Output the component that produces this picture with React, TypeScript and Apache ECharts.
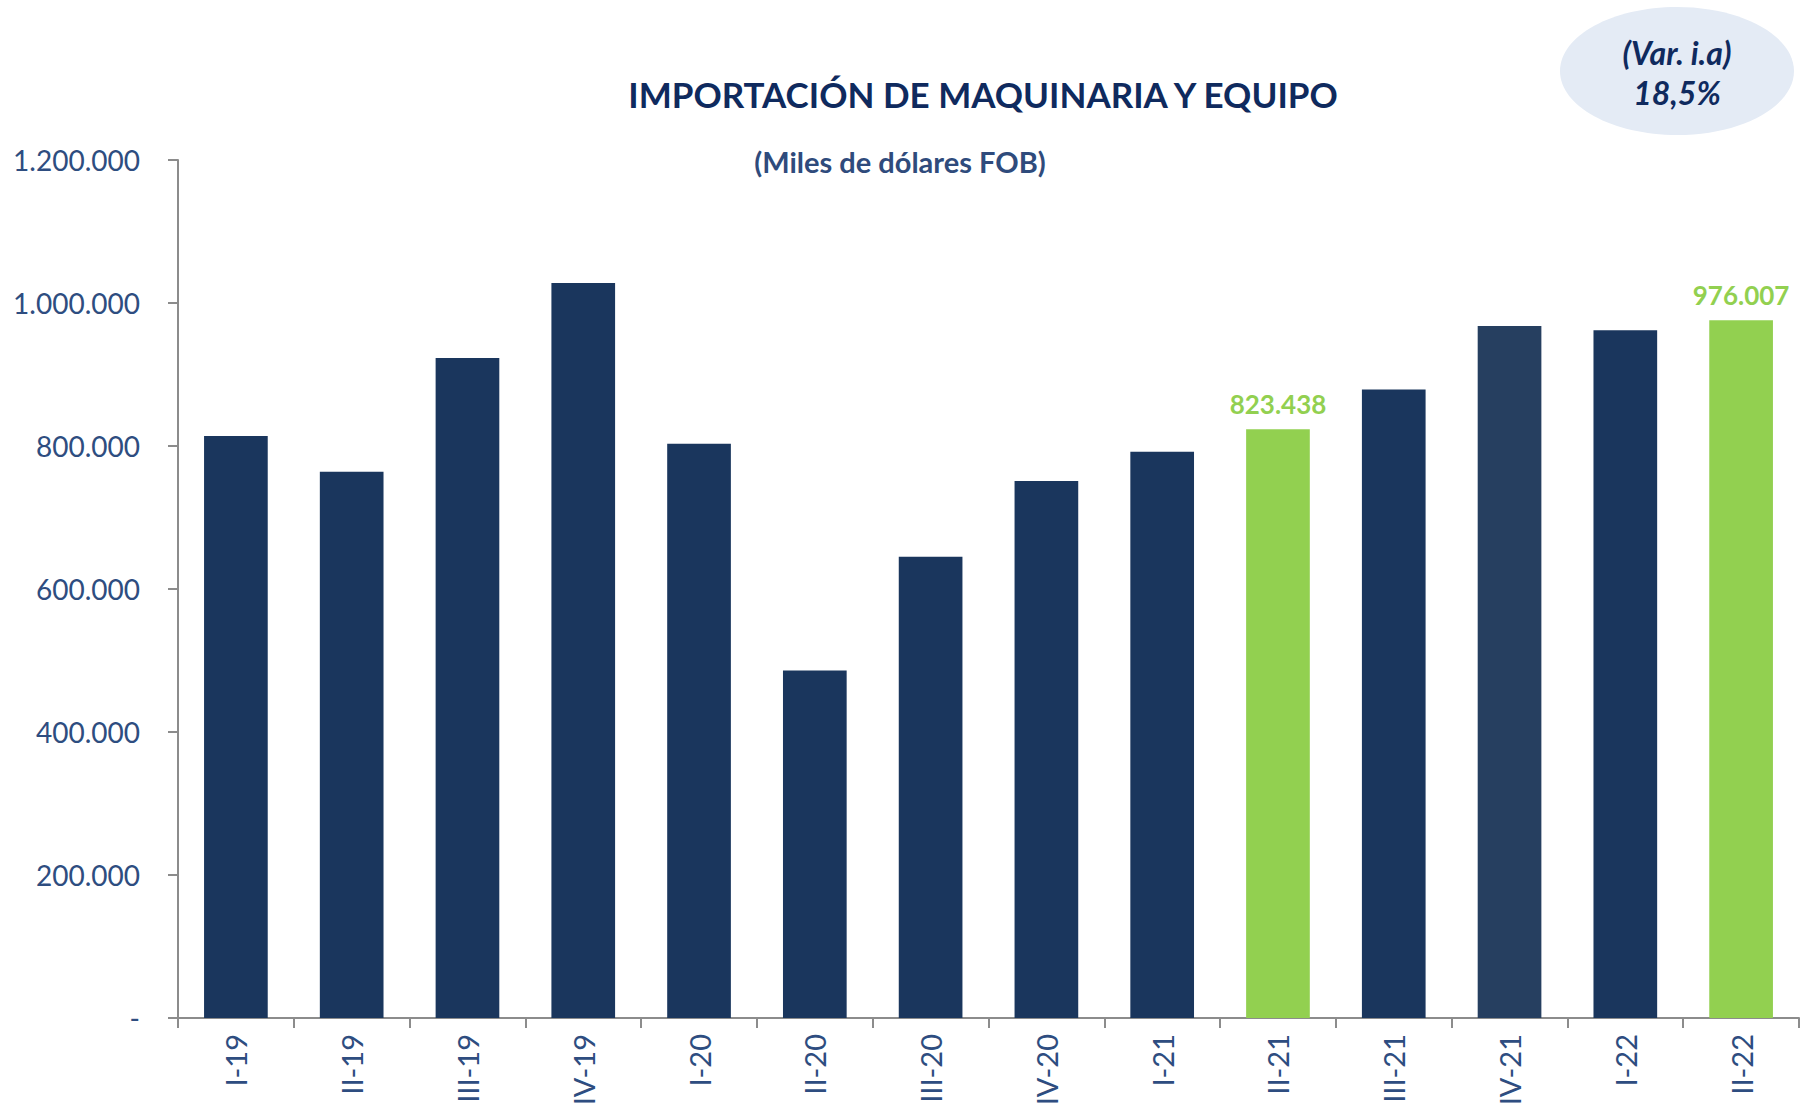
import React, { useEffect, useRef } from "react";
import * as echarts from "echarts";

const categories = ["I-19", "II-19", "III-19", "IV-19", "I-20", "II-20", "III-20", "IV-20", "I-21", "II-21", "III-21", "IV-21", "I-22", "II-22"];
const values = [814000, 764000, 923000, 1028000, 803000, 486000, 645000, 751000, 792000, 823438, 879000, 968000, 962000, 976007];
const highlighted = ["II-21", "II-22"];
const yTicks = [0, 200000, 400000, 600000, 800000, 1000000, 1200000];
const titleText = "IMPORTACIÓN DE MAQUINARIA Y EQUIPO";
const subtitleText = "(Miles de dólares FOB)";
const badgeLines = ["(Var. i.a)", "18,5%"];

const NAVY = "#1a365d";
const NAVY2 = "#263f60";
const GREEN = "#92d050";
const LABEL = "#2e4d80";
const TITLE = "#0f2a5e";
const AXIS = "#8c8c8c";
const FONT = "Lato, 'Open Sans', sans-serif";

function fmt(v: number): string {
  if (v === 0) return "-";
  return Math.round(v).toString().replace(/\B(?=(\d{3})+(?!\d))/g, ".");
}

export default function App() {
  const ref = useRef<HTMLDivElement>(null);
  useEffect(() => {
    if (!ref.current) return;
    const chart = echarts.init(ref.current, null, { renderer: "svg" });
    const data = values.map((v, i) => {
      const hl = highlighted.includes(categories[i]);
      return {
        value: v,
        itemStyle: { color: hl ? GREEN : categories[i] === "IV-21" ? NAVY2 : NAVY },
        label: {
          show: hl,
          position: "top",
          distance: 12,
          formatter: (p: any) => fmt(p.value),
          color: GREEN,
          fontFamily: FONT,
          fontWeight: "bold",
          fontSize: 26,
        },
      };
    });
    chart.setOption({
      animation: false,
      backgroundColor: "#ffffff",
      grid: { left: 178, right: 5, top: 160, bottom: 92, containLabel: false },
      xAxis: {
        type: "category",
        data: categories,
        boundaryGap: true,
        axisLine: { show: true, lineStyle: { color: AXIS, width: 2 } },
        axisTick: { show: true, length: 10, alignWithLabel: false, lineStyle: { color: AXIS, width: 2 } },
        axisLabel: { rotate: 90, color: LABEL, fontFamily: FONT, fontSize: 29, margin: 16 },
      },
      yAxis: {
        type: "value",
        min: yTicks[0],
        max: yTicks[yTicks.length - 1],
        interval: yTicks[1] - yTicks[0],
        axisLine: { show: true, lineStyle: { color: AXIS, width: 2 } },
        axisTick: { show: true, length: 10, lineStyle: { color: AXIS, width: 2 } },
        splitLine: { show: false },
        axisLabel: { color: LABEL, fontFamily: FONT, fontSize: 28, margin: 38, formatter: (v: number) => fmt(v) },
      },
      series: [
        {
          type: "bar",
          data,
          barWidth: "55%",
        },
      ],
      graphic: [
        {
          type: "text",
          x: 983,
          y: 94,
          style: { text: titleText, fill: TITLE, font: `bold 35px ${FONT}`, textAlign: "center", textVerticalAlign: "middle" },
        },
        {
          type: "text",
          x: 900,
          y: 161,
          style: { text: subtitleText, fill: "#2f4b7c", font: `bold 29px ${FONT}`, textAlign: "center", textVerticalAlign: "middle" },
        },
        {
          type: "ellipse",
          shape: { cx: 1677, cy: 71, rx: 117, ry: 64 },
          style: { fill: "#e4ebf5" },
        },
        {
          type: "text",
          x: 1677,
          y: 52,
          style: { text: badgeLines[0], fill: TITLE, font: `italic bold 32px ${FONT}`, textAlign: "center", textVerticalAlign: "middle" },
        },
        {
          type: "text",
          x: 1677,
          y: 92,
          style: { text: badgeLines[1], fill: TITLE, font: `italic bold 32px ${FONT}`, textAlign: "center", textVerticalAlign: "middle" },
        },
      ],
    });
    return () => chart.dispose();
  }, []);
  return <div ref={ref} style={{ position: "fixed", left: 0, top: 0, width: 1804, height: 1110 }} />;
}
